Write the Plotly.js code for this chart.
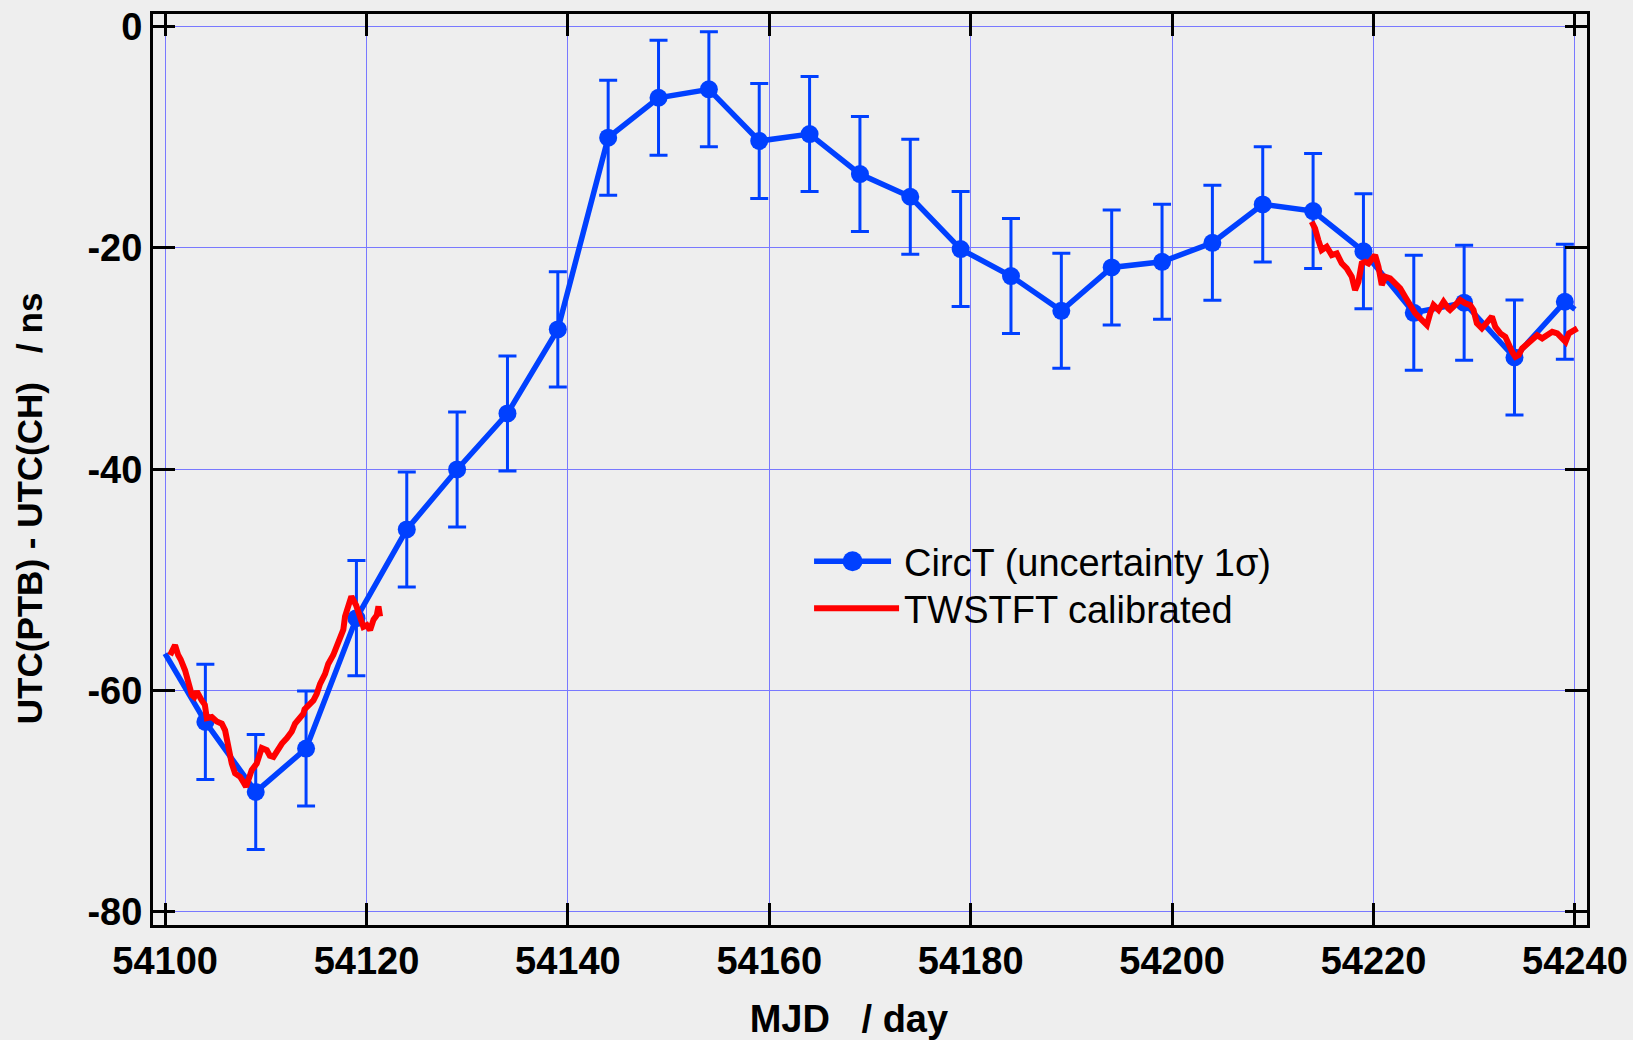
<!DOCTYPE html>
<html>
<head>
<meta charset="utf-8">
<script src="https://cdn.plot.ly/plotly-3.0.1.min.js"></script>
<style>
html,body{margin:0;padding:0;background:#eeeeee;}
#chart{width:1633px;height:1040px;}
</style>
</head>
<body>
<div id="chart"></div>
<script>
// CircT comparison (points every 5 days), plus line end points
const circtMJD = [54104,54109,54114,54119,54124,54129,54134,54139,54144,54149,54154,54159,54164,54169,54174,54179,54184,54189,54194,54199,54204,54209,54214,54219,54224,54229,54234,54239];
const circtVal = [-62.84,-69.17,-65.25,-53.46,-45.44,-40.02,-34.96,-27.36,-10.03,-6.42,-5.66,-10.33,-9.70,-13.32,-15.37,-20.10,-22.54,-25.68,-21.76,-21.25,-19.53,-16.06,-16.66,-20.30,-25.86,-24.95,-29.90,-24.86];
const circtErr = [5.2,5.2,5.2,5.2,5.2,5.2,5.2,5.2,5.2,5.2,5.2,5.2,5.2,5.2,5.2,5.2,5.2,5.2,5.2,5.2,5.2,5.2,5.2,5.2,5.2,5.2,5.2,5.2];
const circtStartMJD = [54100, 54104];
const circtStartVal = [-56.66, -62.84];
const circtEndMJD = [54239, 54240];
const circtEndVal = [-24.86, -25.55];

// TWSTFT calibrated, two segments
const tw1MJD = [54100.50,54100.75,54100.99,54101.30,54101.55,54101.99,54102.30,54102.65,54102.90,54103.15,54103.64,54103.95,54104.14,54104.64,54105.13,54105.63,54105.96,54106.30,54106.62,54106.95,54107.45,54107.78,54108.04,54108.27,54108.60,54109.10,54109.60,54110.10,54110.40,54110.76,54111.10,54111.60,54112.10,54112.58,54112.91,54113.40,54113.73,54113.85,54114.23,54114.73,54115.06,54115.39,54115.89,54116.20,54116.70,54117.05,54117.38,54117.70,54117.87,54118.20,54118.50,54118.97,54119.36,54119.69,54120.03,54120.36,54120.70,54121.02,54121.19,54121.35];
const tw1Val = [-56.8,-56.3,-55.9,-56.8,-57.2,-58.2,-59.4,-60.4,-60.6,-60.1,-60.9,-61.3,-62.5,-62.4,-62.8,-63.0,-63.6,-65.4,-66.6,-67.5,-67.8,-68.3,-68.7,-68.1,-67.2,-66.6,-65.2,-65.4,-65.9,-66.0,-65.4,-64.8,-64.3,-63.7,-63.0,-62.5,-62.1,-61.7,-61.3,-60.9,-60.3,-59.4,-58.5,-57.6,-56.8,-56.1,-55.3,-54.5,-53.3,-52.4,-51.5,-52.3,-53.3,-54.25,-54.1,-54.55,-53.6,-53.2,-52.4,-53.3];
const tw2MJD = [54213.86,54214.19,54214.52,54214.85,54215.35,54215.85,54216.35,54216.84,54217.34,54217.84,54218.17,54218.50,54218.83,54219.17,54219.50,54219.82,54220.16,54220.49,54220.82,54221.16,54221.65,54222.15,54222.65,54223.14,54223.64,54224.14,54224.64,54225.30,54225.63,54225.96,54226.46,54226.96,54227.43,54227.60,54228.10,54228.60,54229.10,54229.60,54229.93,54230.26,54230.76,54231.26,54231.76,54232.09,54232.59,54233.09,54233.42,54233.76,54234.09,54234.42,54234.76,54235.26,54235.75,54236.25,54236.75,54237.25,54237.75,54238.25,54238.74,54239.07,54239.40,54239.90,54240.24];
const tw2Val = [-17.63,-18.23,-19.29,-20.19,-19.89,-20.64,-20.49,-21.39,-21.85,-22.6,-23.8,-23.06,-21.39,-21.25,-21.4,-21.09,-20.64,-21.7,-23.35,-22.6,-22.75,-23.2,-23.65,-24.41,-25.16,-25.9,-26.37,-26.97,-25.9,-25.16,-25.6,-24.86,-25.46,-25.6,-25.16,-24.7,-25.0,-25.16,-25.6,-26.8,-27.27,-26.8,-26.2,-27.12,-27.72,-28.03,-28.78,-29.38,-29.84,-29.68,-29.08,-28.63,-28.33,-27.88,-28.17,-27.88,-27.58,-27.72,-28.17,-28.48,-27.72,-27.42,-27.27];

const xTicks = [54100,54120,54140,54160,54180,54200,54220,54240];
const yTicks = [-80,-60,-40,-20,0];

const BLUE = '#0040ff';
const RED = '#ff0000';
const FONT = 'Liberation Sans, Arial, Helvetica, sans-serif';
const NB = '\u00a0';

const traces = [
  {x: circtStartMJD, y: circtStartVal, mode: 'lines', line: {color: BLUE, width: 5.5}, showlegend: false, hoverinfo: 'skip'},
  {x: circtEndMJD, y: circtEndVal, mode: 'lines', line: {color: BLUE, width: 5.5}, showlegend: false, hoverinfo: 'skip'},
  {
    x: circtMJD, y: circtVal, mode: 'lines+markers', name: 'CircT (uncertainty 1\u03c3)',
    line: {color: BLUE, width: 5.5},
    marker: {color: BLUE, size: 18, symbol: 'circle'},
    error_y: {type: 'data', array: circtErr, visible: true, color: BLUE, thickness: 3, width: 9},
    legend: 'legend'
  },
  {
    x: tw1MJD.concat([null], tw2MJD), y: tw1Val.concat([null], tw2Val),
    mode: 'lines', name: 'TWSTFT calibrated', connectgaps: false,
    line: {color: RED, width: 6},
    legend: 'legend2'
  }
];

const axisCommon = {
  showline: true, linecolor: '#000', linewidth: 3, mirror: 'ticks',
  ticks: 'inside', ticklen: 22, tickwidth: 3, tickcolor: '#000',
  showgrid: true, gridcolor: '#7878ff', gridwidth: 1,
  zeroline: false,
  tickfont: {family: FONT, size: 38, color: '#000', weight: 'bold'}
};

const legendCommon = {
  xanchor: 'left', yanchor: 'top',
  bgcolor: 'rgba(0,0,0,0)', borderwidth: 0,
  font: {family: FONT, size: 38, color: '#000'},
  itemwidth: 85
};

const layout = {
  width: 1633, height: 1040,
  paper_bgcolor: '#eeeeee', plot_bgcolor: '#eeeeee',
  margin: {l: 153, r: 45.5, t: 14, b: 115},
  showlegend: true,
  legend: Object.assign({}, legendCommon, {x: 0.4575, y: 0.4335}),
  legend2: Object.assign({}, legendCommon, {x: 0.4575, y: 0.3819}),
  xaxis: Object.assign({}, axisCommon, {
    range: [54098.8, 54241.2], tickmode: 'array', tickvals: xTicks, ticktext: xTicks.map(String),
    title: {text: 'MJD' + NB + NB + NB + '/ day' + NB.repeat(4) + '\u200b', font: {family: FONT, size: 38, color: '#000', weight: 'bold'}, standoff: 28}
  }),
  yaxis: Object.assign({}, axisCommon, {
    range: [-81.2, 1.15], tickmode: 'array', tickvals: yTicks, ticktext: yTicks.map(String),
    title: {text: 'UTC(PTB) - UTC(CH)' + NB + NB + NB + '/ ns' + NB.repeat(8) + '\u200b', font: {family: FONT, size: 35, color: '#000', weight: 'bold'}, standoff: 35}
  })
};

Plotly.newPlot('chart', traces, layout, {displayModeBar: false, staticPlot: true}).then(function (gd) {
  // lengthen the legend symbols to match the original legend style
  gd.querySelectorAll('.legend .traces .legendlines path').forEach(function (p) {
    p.setAttribute('d', 'M5,0h77');
  });
  gd.querySelectorAll('.legend .traces .legendpoints path').forEach(function (p) {
    p.setAttribute('transform', 'translate(43.5,0)');
    p.setAttribute('d', 'M10,0A10,10 0 1,1 0,-10A10,10 0 0,1 10,0Z');
  });
});
</script>
</body>
</html>
